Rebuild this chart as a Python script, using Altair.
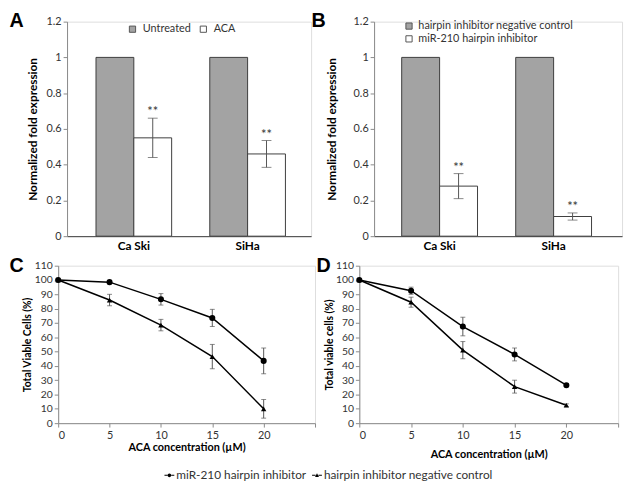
import altair as alt
import pandas as pd

FONT = "Lato"
LETTER_FONT = "Liberation Sans"

# ---------- data ----------
cells = ["Ca Ski", "SiHa"]

a_groups = ["Untreated", "ACA"]
a_values = [[1.0, 0.55], [1.0, 0.46]]          # per cell: [untreated, ACA]
a_errors = [[0.0, 0.11], [0.0, 0.075]]

b_groups = ["hairpin inhibitor negative control", "miR-210 hairpin inhibitor"]
b_values = [[1.0, 0.28], [1.0, 0.11]]
b_errors = [[0.0, 0.07], [0.0, 0.02]]

conc = [0, 5, 10, 15, 20]
series = ["miR-210 hairpin inhibitor", "hairpin inhibitor negative control"]
c_circle = [100, 98.5, 86.5, 73.5, 43.5]
c_circle_err = [0, 1, 4, 6, 9]
c_tri = [100, 86, 68.5, 46.5, 10]
c_tri_err = [0, 4, 4, 8.5, 6.5]
d_circle = [100, 92.5, 67.5, 48, 26.5]
d_circle_err = [1, 2.5, 6.5, 4.5, 1]
d_tri = [100, 84.5, 51, 25.5, 12.5]
d_tri_err = [0, 3.5, 6, 4.5, 1]

BAR_GRAY = "#a3a3a3"
EDGE = "#3c3c3c"
AXIS_GRAY = "#8a8a8a"
LABEL = "#333333"


def with_letter(inner, df, field, text, dx, ty):
    """Panel letter drawn as the title of an invisible top axis (placed with titleX/titleY)."""
    lay = alt.Chart(df).mark_point(opacity=0).encode(
        x=alt.X(field, title=text,
                axis=alt.Axis(orient="top", domain=False, ticks=False, labels=False, grid=False,
                              titleX=dx, titleY=ty, titleAngle=0, titleAlign="left",
                              titleBaseline="alphabetic", titleFont=LETTER_FONT,
                              titleFontSize=20, titleFontWeight="bold", titleColor="black",
                              titlePadding=0)))
    return alt.layer(inner, lay).resolve_scale(x="independent")


def bar_df(groups, values, errors):
    rows = []
    for i, c in enumerate(cells):
        for j, g in enumerate(groups):
            v = values[i][j]
            e = errors[i][j]
            rows.append({"cell": c, "group": g, "value": v, "lo": v - e, "hi": v + e,
                         "star": "**" if j == 1 else "", "haserr": e > 0})
    return pd.DataFrame(rows)


def bar_panel(df, groups, title, dx, width, height, pin, pout, align, legend, ytpad):
    base = alt.Chart(df)
    x = alt.X("cell:N", sort=cells, title=None,
              scale=alt.Scale(paddingInner=pin, paddingOuter=pout, align=align),
              axis=alt.Axis(labelAngle=0, labelFontWeight="bold", labelColor="black",
                            labelFontSize=12, labelPadding=5, ticks=False,
                            domainColor=EDGE, labelFont=FONT))
    xo = alt.XOffset("group:N", sort=groups, scale=alt.Scale(domain=groups, paddingInner=0, paddingOuter=0))
    y = alt.Y("value:Q", title="Normalized fold expression",
              scale=alt.Scale(domain=[0, 1.2], nice=False),
              axis=alt.Axis(values=[0, 0.2, 0.4, 0.6, 0.8, 1.0, 1.2], format="~g", grid=False,
                            labelOverlap=False, tickCount=7,
                            domainColor=AXIS_GRAY, tickColor=AXIS_GRAY, tickSize=4,
                            labelFontSize=11, labelColor=LABEL, labelPadding=2,
                            titleFontSize=12, titleFontWeight="bold", titleColor="black",
                            titlePadding=ytpad, labelFont=FONT, titleFont=FONT))
    bars = base.mark_bar(stroke=EDGE, strokeWidth=1).encode(
        x=x, xOffset=xo, y=y,
        fill=alt.Fill("group:N", sort=groups,
                      scale=alt.Scale(domain=groups, range=[BAR_GRAY, "white"]),
                      legend=legend),
    )
    err = base.transform_filter("datum.haserr").mark_rule(color="#555555", strokeWidth=1).encode(
        x=alt.X("cell:N", sort=cells), xOffset=xo, y="lo:Q", y2="hi:Q")
    caps_lo = base.transform_filter("datum.haserr").mark_tick(color="#555555", thickness=1, size=10,
                                                              orient="horizontal").encode(
        x=alt.X("cell:N", sort=cells), xOffset=xo, y="lo:Q")
    caps_hi = base.transform_filter("datum.haserr").mark_tick(color="#555555", thickness=1, size=10,
                                                              orient="horizontal").encode(
        x=alt.X("cell:N", sort=cells), xOffset=xo, y="hi:Q")
    stars = base.transform_filter("datum.haserr").mark_text(
        baseline="alphabetic", dy=-2, fontSize=13, font=FONT, color="#333333").encode(
        x=alt.X("cell:N", sort=cells), xOffset=xo, y="hi:Q", text="star:N")
    inner = alt.layer(bars, err, caps_lo, caps_hi, stars)
    return with_letter(inner, df, "value:Q", title, dx, 5).properties(width=width, height=height)


a_legend = alt.Legend(title=None, orient="none", legendX=61, legendY=2, direction="horizontal",
                      symbolType="square", symbolSize=40, symbolStrokeColor="#555555",
                      symbolStrokeWidth=1, labelFontSize=11, labelColor=LABEL, labelFont=FONT,
                      labelOffset=5, columnPadding=7, padding=0)
b_legend = alt.Legend(title=None, orient="none", legendX=30, legendY=-1, direction="vertical",
                      symbolType="square", symbolSize=40, symbolStrokeColor="#555555",
                      symbolStrokeWidth=1, labelFontSize=11, labelColor=LABEL, labelFont=FONT,
                      labelOffset=4, rowPadding=1, padding=0, labelLimit=300)

panel_a = bar_panel(bar_df(a_groups, a_values, a_errors), a_groups, "A", -59, 248, 218,
                    0.335, 0.24, 0.53, a_legend, 7)
panel_b = bar_panel(bar_df(b_groups, b_values, b_errors), b_groups, "B", -64, 252, 218,
                    0.335, 0.255, 0.475, b_legend, 15)


def line_df(circ, circ_err, tri, tri_err):
    rows = []
    for i, c in enumerate(conc):
        rows.append({"conc": c, "series": series[0], "v": circ[i], "lo": circ[i] - circ_err[i],
                     "hi": circ[i] + circ_err[i]})
        rows.append({"conc": c, "series": series[1], "v": tri[i], "lo": tri[i] - tri_err[i],
                     "hi": tri[i] + tri_err[i]})
    return pd.DataFrame(rows)


# legend symbols: short line with the marker in the middle (all parts filled)
CIRCLE_PATH = ("M-1,-0.1H-0.4V0.1H-1Z M0.4,-0.1H1V0.1H0.4Z "
               "M-0.38,0A0.38,0.38 0 1,0 0.38,0A0.38,0.38 0 1,0 -0.38,0Z")
TRI_PATH = ("M-1,-0.1H-0.3V0.1H-1Z M0.3,-0.1H1V0.1H0.3Z "
            "M0,-0.42L0.4,0.32L-0.4,0.32Z")


def line_panel(df, title, dx, ytitle, width, height, xtitlepad, ytitlepad, show_legend):
    base = alt.Chart(df)
    x = alt.X("conc:Q", title="ACA concentration (\u00b5M)",
              scale=alt.Scale(domain=[0, 25], nice=False),
              axis=alt.Axis(values=[0, 5, 10, 15, 20, 25],
                            labelExpr="datum.value == 25 ? '' : datum.label",
                            grid=False, domainColor=AXIS_GRAY, tickColor=AXIS_GRAY, tickSize=4,
                            labelFontSize=11, labelColor=LABEL, labelPadding=3,
                            labelOverlap=False,
                            titleFontSize=11, titleFontWeight="bold", titleColor="black",
                            titlePadding=xtitlepad, labelFont=FONT, titleFont=FONT))
    y = alt.Y("v:Q", title=ytitle, scale=alt.Scale(domain=[0, 110], nice=False),
              axis=alt.Axis(values=list(range(0, 111, 10)), grid=False, labelOverlap=False,
                            tickCount=12,
                            domainColor=AXIS_GRAY, tickColor=AXIS_GRAY, tickSize=4,
                            labelFontSize=10.5, labelColor=LABEL, labelPadding=2,
                            titleFontSize=10.5, titleFontWeight="bold", titleColor="black",
                            titlePadding=ytitlepad, labelFont=FONT, titleFont=FONT))
    lines = base.mark_line(color="black", strokeWidth=1.5).encode(
        x=x, y=y, detail="series:N")
    err = base.mark_rule(color="#555555", strokeWidth=1).encode(x="conc:Q", y="lo:Q", y2="hi:Q")
    cap_lo = base.mark_tick(color="#555555", thickness=1, size=5, orient="horizontal").encode(
        x="conc:Q", y="lo:Q")
    cap_hi = base.mark_tick(color="#555555", thickness=1, size=5, orient="horizontal").encode(
        x="conc:Q", y="hi:Q")
    circles = base.transform_filter(alt.datum.series == series[0]).mark_point(
        shape="circle", filled=True, color="black", size=38, opacity=1).encode(x="conc:Q", y="v:Q")
    tris = base.transform_filter(alt.datum.series == series[1]).mark_point(
        shape="triangle-up", filled=True, color="black", size=30, opacity=1).encode(x="conc:Q", y="v:Q")
    layers = [lines, err, cap_lo, cap_hi, circles, tris]
    if show_legend:
        leg = base.transform_filter("false").mark_point(
            filled=True, color="black", opacity=1).encode(
            x="conc:Q", y="v:Q",
            shape=alt.Shape("series:N", scale=alt.Scale(domain=series, range=[CIRCLE_PATH, TRI_PATH]),
                            legend=alt.Legend(title=None, orient="none", legendX=107, legendY=207,
                                              direction="horizontal", symbolSize=100,
                                              symbolFillColor="black", symbolStrokeColor="black",
                                              symbolStrokeWidth=0, symbolOpacity=1,
                                              labelFontSize=12, labelColor=LABEL, labelFont=FONT,
                                              labelOffset=1, columnPadding=4, padding=0,
                                              labelLimit=300)))
        layers.append(leg)
    inner = alt.layer(*layers)
    return with_letter(inner, df, "v:Q", title, dx, 6).properties(width=width, height=height)


panel_c = line_panel(line_df(c_circle, c_circle_err, c_tri, c_tri_err), "C", -50,
                     "Total Viable Cells (%)", 261, 160, 1, 2, True)
panel_d = line_panel(line_df(d_circle, d_circle_err, d_tri, d_tri_err), "D", -44,
                     "Total viable cells (%)", 263, 160, 8, 1, False)

# empty layout spacer that shifts the top row 9px to the right of the bottom row
spacer = alt.Chart(pd.DataFrame({"s": []})).mark_point(opacity=0).properties(width=9, height=1)

top_inner = alt.hconcat(panel_a, panel_b, spacing=64, bounds="flush").resolve_scale(
    x="independent", y="independent", fill="independent", xOffset="independent").resolve_legend(
    fill="independent")
top = alt.hconcat(spacer, top_inner, spacing=0, bounds="flush")
bottom = alt.hconcat(panel_c, panel_d, spacing=45, bounds="flush").resolve_scale(
    x="independent", y="independent", shape="independent")

chart = alt.concat(top, bottom, columns=1, spacing=2, align="none").resolve_scale(
    x="independent", y="independent", fill="independent", shape="independent",
    xOffset="independent").properties(
    padding={"top": -2, "left": 0, "right": 0, "bottom": 0}).configure_view(stroke=None).configure_axis(
    labelOverlap=False).configure(background="white")

chart.save("out.html", embed_options={"renderer": "svg", "actions": False})
